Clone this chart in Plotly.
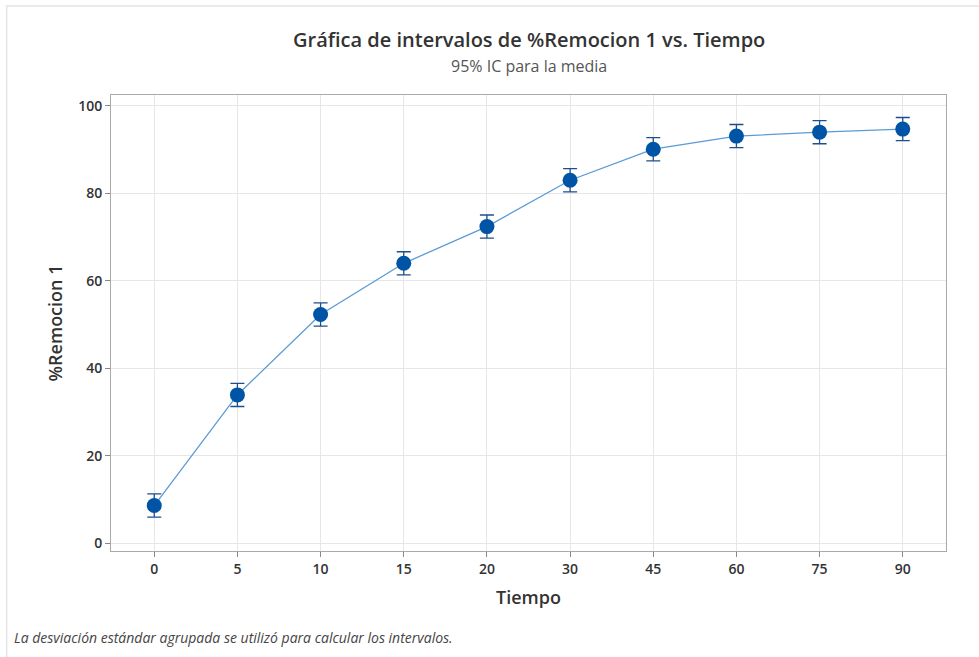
import plotly.graph_objects as go

tiempo = ["0", "5", "10", "15", "20", "30", "45", "60", "75", "90"]
remocion_media = [8.6, 33.9, 52.3, 64.0, 72.4, 83.0, 90.1, 93.1, 94.0, 94.7]
ic_mitad = [2.65] * 10
y_ticks = [0, 20, 40, 60, 80, 100]

fig = go.Figure()
fig.add_trace(go.Scatter(
    x=tiempo, y=remocion_media, mode="lines",
    line=dict(color="#5B9BD5", width=1.3), hoverinfo="skip", showlegend=False))
fig.add_trace(go.Scatter(
    x=tiempo, y=remocion_media, mode="markers",
    marker=dict(color="#0054A6", size=15, line=dict(width=0)),
    error_y=dict(type="data", array=ic_mitad, color="#1F4E8C", thickness=1.3, width=7),
    showlegend=False))

fig.update_layout(
    width=979, height=657,
    paper_bgcolor="white", plot_bgcolor="white",
    margin=dict(l=111, r=33, t=95, b=106),
    font=dict(family="Open Sans, Noto Sans, sans-serif", color="#333333"),
    xaxis=dict(
        type="category", range=[-0.52, 9.52],
        showgrid=True, gridcolor="#E6E6E6", gridwidth=1,
        showline=True, linecolor="#AAAAAA", mirror=True,
        ticks="outside", ticklen=5, tickcolor="#888888",
        tickfont=dict(size=14, color="#333333", weight=600),
        title=dict(text="Tiempo", font=dict(size=18, color="#333333", weight=600), standoff=14)),
    yaxis=dict(
        range=[-1.8, 102.5], tickvals=y_ticks,
        showgrid=True, gridcolor="#E6E6E6", gridwidth=1,
        showline=True, linecolor="#AAAAAA", mirror=True, zeroline=False,
        ticks="outside", ticklen=5, tickcolor="#888888",
        tickfont=dict(size=14, color="#333333", weight=600),
        title=dict(text="%Remocion 1", font=dict(size=18, color="#333333", weight=600), standoff=10)),
)

fig.add_annotation(
    text="Gráfica de intervalos de %Remocion 1 vs. Tiempo",
    xref="paper", yref="paper", x=0.5, y=1 + 55 / 456, xanchor="center", yanchor="middle",
    showarrow=False, font=dict(size=20, color="#333333", weight=600))
fig.add_annotation(
    text="95% IC para la media",
    xref="paper", yref="paper", x=0.5, y=1 + 29 / 456, xanchor="center", yanchor="middle",
    showarrow=False, font=dict(size=16, color="#555555"))

fig.add_annotation(
    text="<i>La desviación estándar agrupada se utilizó para calcular los intervalos.</i>",
    xref="paper", yref="paper", x=-0.118, y=-0.19, xanchor="left", yanchor="middle",
    showarrow=False, font=dict(size=14, color="#444444"))

fig.add_shape(type="rect", xref="paper", yref="paper",
              x0=-0.125, x1=1.045, y0=-0.245, y1=1.195,
              line=dict(color="#E3E3E3", width=1.5), layer="below")

fig.write_html("out.html")
